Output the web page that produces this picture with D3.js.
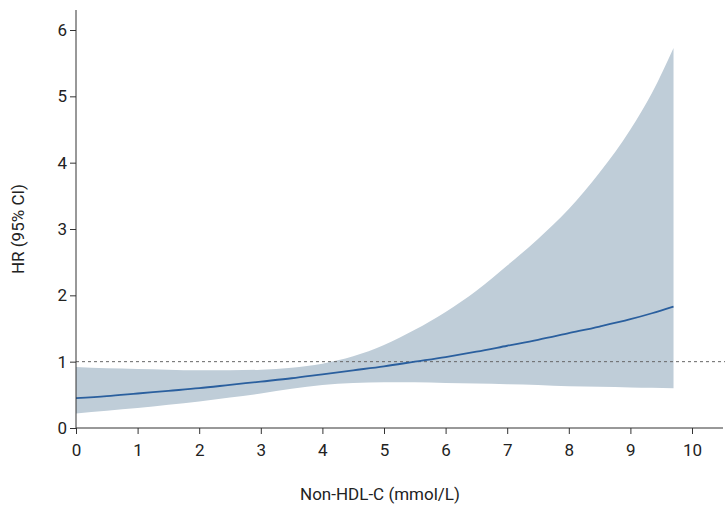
<!DOCTYPE html>
<html><head><meta charset="utf-8">
<script src="https://cdn.jsdelivr.net/npm/d3@7"></script>
<style>body{margin:0;background:#fff}</style></head>
<body><svg id="c" width="725" height="513"></svg>
<script>
const xs    = [0, 0.5, 1, 1.5, 2, 2.5, 3, 3.5, 4, 4.5, 5, 5.5, 6, 6.5, 7, 7.5, 8, 8.5, 9, 9.35, 9.7];
const hr    = [0.45,0.48,0.52,0.56,0.60,0.65,0.70,0.75,0.81,0.87,0.93,1.00,1.07,1.15,1.24,1.33,1.43,1.53,1.64,1.73,1.83];
const upper = [0.92,0.90,0.89,0.88,0.87,0.87,0.88,0.91,0.97,1.08,1.25,1.48,1.75,2.07,2.45,2.85,3.30,3.85,4.50,5.05,5.73];
const lower = [0.22,0.26,0.30,0.35,0.40,0.46,0.52,0.59,0.65,0.68,0.69,0.69,0.68,0.67,0.66,0.65,0.63,0.62,0.61,0.605,0.60];
const xTicks = [0,1,2,3,4,5,6,7,8,9,10];
const yTicks = [0,1,2,3,4,5,6];

const svg = d3.select("#c");
const x = d3.scaleLinear().domain([0,10]).range([76,692]);
const y = d3.scaleLinear().domain([0,6]).range([428,30]);
const font = "Roboto, 'Noto Sans', sans-serif";

const pts = xs.map((v,i)=>({x:v,h:hr[i],u:upper[i],l:lower[i]}));
svg.append("path").datum(pts).attr("fill","#bfcdd8")
  .attr("d", d3.area().x(d=>x(d.x)).y0(d=>y(d.l)).y1(d=>y(d.u)).curve(d3.curveMonotoneX));
svg.append("line").attr("x1",76).attr("x2",725).attr("y1",y(1)).attr("y2",y(1))
  .attr("stroke","#666").attr("stroke-dasharray","3,3").attr("stroke-width",1);
svg.append("path").datum(pts).attr("fill","none").attr("stroke","#2a5f9e").attr("stroke-width",1.8)
  .attr("d", d3.line().x(d=>x(d.x)).y(d=>y(d.h)).curve(d3.curveMonotoneX));

const xa = svg.append("g").attr("transform","translate(0,428)")
  .call(d3.axisBottom(x).tickValues(xTicks).tickSize(6).tickFormat(d3.format("d")));
xa.select(".domain").attr("d","M76,0H723");
const ya = svg.append("g").attr("transform","translate(76,0)")
  .call(d3.axisLeft(y).tickValues(yTicks).tickSize(6).tickFormat(d3.format("d")));
ya.select(".domain").attr("d","M0,428V10");
[xa,ya].forEach(a=>{a.selectAll("text").attr("font-family",font).attr("font-size",17).attr("fill","#222");
  a.selectAll("line,path").attr("stroke","#333");});
xa.selectAll("text").attr("dy","1.1em");

svg.append("text").attr("x",380).attr("y",500).attr("text-anchor","middle")
  .attr("font-family",font).attr("font-size",17).attr("fill","#222").text("Non-HDL-C (mmol/L)");
svg.append("text").attr("transform","translate(24,229) rotate(-90)").attr("text-anchor","middle")
  .attr("font-family",font).attr("font-size",17).attr("fill","#222").text("HR (95% CI)");
</script></body></html>
